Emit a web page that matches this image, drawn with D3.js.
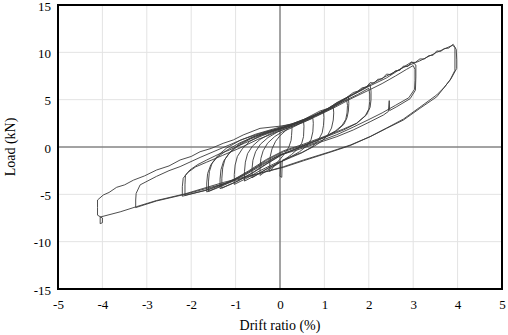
<!DOCTYPE html>
<html>
<head>
<meta charset="utf-8">
<script src="https://cdn.jsdelivr.net/npm/d3@7"></script>
<style>
  html, body { margin: 0; padding: 0; background: #fff; }
  svg { display: block; }
  svg text { font-family: "Liberation Serif", "Times New Roman", serif !important; }
</style>
</head>
<body>
<svg id="chart"></svg>
<script>
// axis ticks
const xTicks = [-5, -4, -3, -2, -1, 0, 1, 2, 3, 4, 5];
const yTicks = [-15, -10, -5, 0, 5, 10, 15];

// hysteresis cycles, [drift ratio (%), load (kN)]
const cycle1 = [[-0.23,-2.6],[-0.23,-1.8],[-0.22,-1.0],[-0.18,-0.2],[-0.1,0.6],[0,1.2],[0.12,1.7],[0.26,2.3],[0.27,1.9],[0.26,1.2],[0.25,0.7],[0.2,0.0],[0.12,-0.6],[0.02,-1.2],[-0.1,-1.8],[-0.23,-2.6]];
const cycle2 = [[-0.45,-3.0],[-0.45,-2.1],[-0.43,-1.2],[-0.38,-0.4],[-0.28,0.4],[-0.12,1.1],[0.05,1.6],[0.25,2.0],[0.4,2.35],[0.53,2.7],[0.54,2.2],[0.53,1.1],[0.49,0.4],[0.4,-0.2],[0.26,-0.8],[0.08,-1.4],[-0.12,-2.0],[-0.3,-2.5],[-0.45,-3.0]];
const cycle3 = [[-0.63,-3.25],[-0.63,-2.3],[-0.61,-1.4],[-0.55,-0.5],[-0.44,0.3],[-0.27,1.0],[-0.05,1.6],[0.2,2.05],[0.5,2.55],[0.74,3.05],[0.75,2.5],[0.74,1.6],[0.7,0.8],[0.6,0.1],[0.44,-0.5],[0.22,-1.1],[0,-1.6],[-0.25,-2.2],[-0.45,-2.75],[-0.63,-3.25]];
const cycle4 = [[-0.8,-3.6],[-0.8,-2.6],[-0.78,-1.6],[-0.73,-0.7],[-0.62,0.1],[-0.45,0.8],[-0.22,1.4],[0.05,1.9],[0.35,2.4],[0.65,3.0],[0.98,3.75],[0.99,3.1],[0.98,2.3],[0.95,1.5],[0.86,0.7],[0.72,0.0],[0.5,-0.6],[0.25,-1.1],[0,-1.6],[-0.3,-2.3],[-0.55,-3.0],[-0.8,-3.6]];
const cycle5 = [[-1.03,-3.95],[-1.03,-2.9],[-1.01,-1.9],[-0.96,-1.0],[-0.85,-0.2],[-0.68,0.6],[-0.42,1.25],[-0.1,1.8],[0.25,2.3],[0.6,2.95],[0.95,3.7],[1.2,4.2],[1.21,3.6],[1.2,2.85],[1.16,2.0],[1.08,1.3],[0.94,0.6],[0.74,0.0],[0.48,-0.6],[0.2,-1.1],[0.05,-1.4],[0.04,-3.2],[0.0,-3.1],[0.02,-1.5],[-0.1,-1.7],[-0.45,-2.5],[-0.75,-3.3],[-1.03,-3.95]];
const cycle6 = [[-1.31,-4.35],[-1.31,-3.3],[-1.29,-2.2],[-1.24,-1.3],[-1.12,-0.5],[-0.92,0.3],[-0.64,1.0],[-0.3,1.6],[0.05,2.05],[0.45,2.7],[0.85,3.5],[1.2,4.35],[1.54,5.3],[1.55,4.6],[1.54,3.8],[1.51,3.1],[1.44,2.4],[1.3,1.8],[1.05,1.1],[0.75,0.5],[0.4,-0.1],[0.05,-0.8],[-0.3,-1.8],[-0.6,-2.7],[-0.95,-3.6],[-1.31,-4.35]];
const cycle6b = [[-1.35,-4.4],[-1.35,-3.4],[-1.33,-2.4],[-1.27,-1.5],[-1.15,-0.7],[-0.95,0.1],[-0.67,0.85],[-0.32,1.45],[0.05,1.95],[0.45,2.6],[0.85,3.35],[1.2,4.2],[1.5,5.0],[1.52,4.4],[1.51,3.6],[1.48,2.9],[1.4,2.3],[1.25,1.7],[1.0,1.05],[0.7,0.45],[0.35,-0.2],[0.0,-0.9],[-0.35,-1.9],[-0.65,-2.8],[-1.0,-3.7],[-1.35,-4.4]];
const cycle7 = [[-1.61,-4.7],[-1.61,-3.6],[-1.59,-2.6],[-1.53,-1.7],[-1.4,-0.9],[-1.2,-0.1],[-0.9,0.7],[-0.55,1.35],[-0.15,1.9],[0.3,2.5],[0.7,3.2],[1.05,4.0],[1.4,5.0],[1.75,5.8],[2.03,6.55],[2.05,5.9],[2.05,5.0],[2.03,4.2],[1.95,3.4],[1.73,2.5],[1.43,1.8],[1.05,1.1],[0.53,0.2],[0.08,-0.5],[-0.3,-1.4],[-0.7,-2.6],[-1.1,-3.7],[-1.4,-4.3],[-1.61,-4.7]];
const cycle7b = [[-1.65,-4.75],[-1.65,-3.8],[-1.63,-2.8],[-1.56,-1.9],[-1.42,-1.1],[-1.2,-0.35],[-0.9,0.45],[-0.55,1.15],[-0.15,1.75],[0.3,2.4],[0.7,3.1],[1.05,3.85],[1.4,4.75],[1.75,5.55],[2.0,6.2],[2.02,5.6],[2.02,4.8],[2.0,4.0],[1.92,3.3],[1.72,2.5],[1.43,1.9],[1.05,1.2],[0.53,0.3],[0.08,-0.4],[-0.3,-1.3],[-0.7,-2.5],[-1.1,-3.6],[-1.4,-4.25],[-1.65,-4.75]];
const cycle8 = [[-2.14,-5.1],[-2.14,-4.0],[-2.13,-3.0],[-2.03,-2.43],[-1.85,-1.85],[-1.65,-1.37],[-1.4,-0.8],[-1.13,-0.3],[-0.8,0.4],[-0.4,1.2],[0,1.9],[0.4,2.6],[0.8,3.4],[1.2,4.3],[1.6,5.4],[2.0,6.4],[2.4,7.3],[2.7,8.2],[2.97,9.0],[3.06,8.66],[3.06,7.4],[3.05,6.0],[2.93,5.1],[2.63,4.26],[2.47,3.85],[2.46,4.9],[2.44,3.75],[2.33,3.38],[2.03,2.67],[1.65,1.8],[1.28,1.09],[0.83,0.39],[0.38,-0.32],[0,-0.85],[-0.4,-1.9],[-0.8,-3.0],[-1.2,-3.8],[-1.6,-4.5],[-2.14,-5.1]];
const cycle8b = [[-2.2,-5.2],[-2.2,-4.2],[-2.18,-3.3],[-2.08,-2.7],[-1.9,-2.1],[-1.65,-1.6],[-1.3,-0.9],[-0.9,-0.1],[-0.5,0.8],[0,1.7],[0.4,2.4],[0.8,3.2],[1.2,4.1],[1.6,5.1],[2.0,6.0],[2.3,6.7],[2.6,7.5],[2.85,8.2],[3.0,8.6],[3.04,8.2],[3.04,7.0],[3.03,6.1],[2.9,5.2],[2.6,4.4],[2.3,3.6],[2.0,2.9],[1.65,2.1],[1.28,1.3],[0.83,0.5],[0.38,-0.2],[0,-0.8],[-0.4,-1.8],[-0.8,-2.9],[-1.2,-3.75],[-1.7,-4.6],[-2.2,-5.2]];
const cycle9 = [[-3.25,-6.4],[-3.25,-5.6],[-3.24,-4.9],[-3.15,-4.0],[-2.78,-3.1],[-2.5,-2.5],[-2.25,-2.07],[-1.8,-1.1],[-1.3,-0.1],[-0.85,0.8],[-0.4,1.5],[0,2.0],[0.5,2.7],[0.9,3.6],[1.3,4.6],[1.65,5.6],[2.03,6.6],[2.4,7.5],[2.78,8.4],[3.15,9.1],[3.53,10.0],[3.89,10.75],[3.94,10.5],[3.94,9.3],[3.94,8.1],[3.83,7.07],[3.53,5.3],[3.15,4.08],[2.78,2.85],[2.4,1.97],[2.03,1.09],[1.58,0.2],[1.13,-0.5],[0.53,-1.37],[0.08,-2.08],[-0.53,-2.9],[-1.28,-3.9],[-2.14,-5.0],[-2.78,-5.7],[-3.25,-6.4]];
const cycle10 = [[-4.05,-7.4],[-4.05,-8.1],[-4.0,-8.0],[-4.0,-7.5],[-4.11,-7.2],[-4.11,-6.4],[-4.11,-5.6],[-3.98,-5.07],[-3.85,-4.8],[-3.68,-4.26],[-3.5,-4.0],[-3.3,-3.5],[-3.05,-3.05],[-2.78,-2.43],[-2.5,-2.0],[-2.25,-1.37],[-2.0,-1.0],[-1.8,-0.5],[-1.55,-0.15],[-1.28,0.39],[-1.05,0.75],[-0.83,1.27],[-0.45,1.97],[0,2.2],[0.25,2.4],[0.53,2.9],[0.9,3.8],[1.1,4.1],[1.28,4.7],[1.45,5.05],[1.65,5.75],[1.75,5.9],[1.85,6.25],[1.95,6.35],[2.03,6.8],[2.12,6.75],[2.2,7.15],[2.3,7.2],[2.4,7.7],[2.5,7.65],[2.6,8.05],[2.7,8.1],[2.78,8.55],[2.88,8.5],[2.95,8.9],[3.05,8.95],[3.15,9.3],[3.25,9.3],[3.35,9.65],[3.45,9.7],[3.53,10.15],[3.62,10.1],[3.7,10.4],[3.8,10.45],[3.9,10.85],[3.97,10.3],[3.98,9.2],[3.98,8.3],[3.85,7.2],[3.7,6.3],[3.53,5.5],[3.15,4.2],[2.78,2.95],[2.4,2.0],[2.03,1.1],[1.58,0.15],[1.13,-0.55],[0.53,-1.45],[0.08,-2.15],[-0.53,-2.85],[-1.28,-3.75],[-2.14,-4.95],[-2.78,-5.65],[-3.23,-6.3],[-3.6,-6.85],[-4.05,-7.4]];

const cycles = [cycle1, cycle2, cycle3, cycle4, cycle5, cycle6, cycle6b, cycle7, cycle7b, cycle8, cycle8b, cycle9, cycle10];

const W = 508, H = 335;
const margin = {top: 5, right: 6, bottom: 46, left: 58};
const width = W - margin.left - margin.right;
const height = H - margin.top - margin.bottom;

const svg = d3.select('#chart').attr('width', W).attr('height', H);
const g = svg.append('g').attr('transform', `translate(${margin.left},${margin.top})`);

const x = d3.scaleLinear().domain([-5, 5]).range([0, width]);
const y = d3.scaleLinear().domain([-15, 15]).range([height, 0]);

// grid
g.append('g').selectAll('line').data(xTicks).join('line')
  .attr('x1', d => x(d)).attr('x2', d => x(d))
  .attr('y1', 0).attr('y2', height)
  .attr('stroke', '#e3e3e3').attr('stroke-width', 1);
g.append('g').selectAll('line').data(yTicks).join('line')
  .attr('x1', 0).attr('x2', width)
  .attr('y1', d => y(d)).attr('y2', d => y(d))
  .attr('stroke', '#e3e3e3').attr('stroke-width', 1);

// zero lines
g.append('line').attr('x1', x(0)).attr('x2', x(0)).attr('y1', 0).attr('y2', height)
  .attr('stroke', '#555').attr('stroke-width', 1);
g.append('line').attr('x1', 0).attr('x2', width).attr('y1', y(0)).attr('y2', y(0))
  .attr('stroke', '#555').attr('stroke-width', 1);

// loops
const line = d3.line().x(d => x(d[0])).y(d => y(d[1]));
g.append('g').selectAll('path').data(cycles).join('path')
  .attr('d', line)
  .attr('fill', 'none')
  .attr('stroke', '#3a3a3a')
  .attr('stroke-width', 0.9)
  .attr('stroke-linejoin', 'round');

// frame
g.append('rect').attr('x', 0).attr('y', 0).attr('width', width).attr('height', height)
  .attr('fill', 'none').attr('stroke', '#000').attr('stroke-width', 2);

// axes
const fmt = d => String(d);
g.append('g').attr('transform', `translate(0,${height})`)
  .call(d3.axisBottom(x).tickValues(xTicks).tickFormat(fmt).tickSize(0).tickPadding(11))
  .call(a => a.select('.domain').remove())
  .attr('font-size', 13);
g.append('g')
  .call(d3.axisLeft(y).tickValues(yTicks).tickFormat(fmt).tickSize(0).tickPadding(7))
  .call(a => a.select('.domain').remove())
  .attr('font-size', 13)
  .selectAll('text').attr('dy', '0.4em');

svg.append('text')
  .attr('font-size', 14)
  .attr('x', margin.left + x(0)).attr('y', 330)
  .attr('text-anchor', 'middle').text('Drift ratio (%)');
svg.append('text')
  .attr('font-size', 14)
  .attr('transform', `translate(15,${margin.top + y(0)}) rotate(-90)`)
  .attr('text-anchor', 'middle').text('Load (kN)');
</script>
</body>
</html>
